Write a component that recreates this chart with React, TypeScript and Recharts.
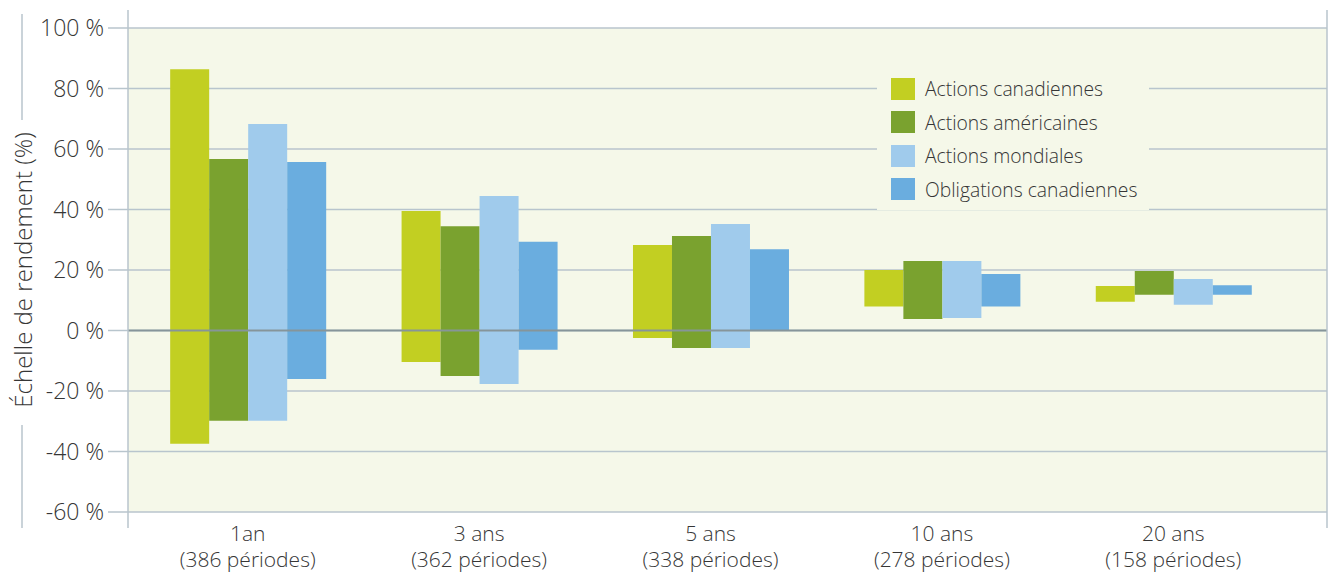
import { Bar, BarChart, CartesianGrid, Legend, ReferenceLine, XAxis, YAxis } from "recharts";

const categories = ["1an", "3 ans", "5 ans", "10 ans", "20 ans"];
const periods = ["(386 périodes)", "(362 périodes)", "(338 périodes)", "(278 périodes)", "(158 périodes)"];

// low / high return per horizon
const canadaLow = [-37.4, -10.4, -2.5, 7.9, 9.5];
const canadaHigh = [86.4, 39.5, 28.3, 20.0, 14.7];
const usLow = [-29.8, -15.0, -5.8, 3.8, 11.8];
const usHigh = [56.7, 34.5, 31.2, 23.0, 19.7];
const worldLow = [-29.8, -17.7, -5.8, 4.1, 8.5];
const worldHigh = [68.3, 44.5, 35.2, 23.0, 17.0];
const bondLow = [-16.0, -6.4, -0.2, 7.9, 11.8];
const bondHigh = [55.7, 29.3, 26.9, 18.7, 15.0];

const yTicks = [-60, -40, -20, 0, 20, 40, 60, 80, 100];

const series = [
  { key: "canada", name: "Actions canadiennes", color: "#c2cf22" },
  { key: "us", name: "Actions américaines", color: "#7aa22f" },
  { key: "world", name: "Actions mondiales", color: "#a0cbec" },
  { key: "bonds", name: "Obligations canadiennes", color: "#6aaddf" },
];

const data = categories.map((c, i) => ({
  category: c,
  periods: periods[i],
  canada: [canadaLow[i], canadaHigh[i]],
  us: [usLow[i], usHigh[i]],
  world: [worldLow[i], worldHigh[i]],
  bonds: [bondLow[i], bondHigh[i]],
}));

const FONT = "'Open Sans', 'Noto Sans', sans-serif";
const TEXT = "#363636";
const LINE = "#b8c5cd";
const BG = "#f5f8e9";

function XTick(props: any) {
  const { x, y, payload, index } = props;
  return (
    <g>
      <text x={x} y={y + 21} textAnchor="middle" fill={TEXT} fontFamily={FONT} fontWeight={300} fontSize={21}>
        {payload.value}
      </text>
      <text x={x} y={y + 47} textAnchor="middle" fill={TEXT} fontFamily={FONT} fontWeight={300} fontSize={21}>
        {periods[index]}
      </text>
    </g>
  );
}

function YLabel(props: any) {
  const vb = props.viewBox || { x: 0, y: 28, width: 128, height: 484 };
  const cy = vb.y + vb.height / 2;
  const right = vb.x + vb.width;
  return (
    <g>
      <line x1={22} x2={22} y1={vb.y - 14} y2={cy - 150} stroke={LINE} strokeWidth={1.5} />
      <line x1={22} x2={22} y1={cy + 155} y2={vb.y + vb.height + 16} stroke={LINE} strokeWidth={1.5} />
      <text
        x={22}
        y={cy}
        transform={`rotate(-90 22 ${cy})`}
        textAnchor="middle"
        dominantBaseline="central"
        fill={TEXT}
        fontFamily={FONT}
        fontWeight={300}
        fontSize={24}
      >
        Échelle de rendement (%)
      </text>
      <line x1={right} x2={right} y1={vb.y - 18} y2={vb.y + vb.height + 16} stroke={LINE} strokeWidth={1.5} />
    </g>
  );
}

function RightFrame(props: any) {
  const vb = props.viewBox || { x: 1327, y: 28, width: 4, height: 484 };
  return (
    <line x1={vb.x} x2={vb.x} y1={vb.y - 18} y2={vb.y + vb.height + 16} stroke={LINE} strokeWidth={1.5} />
  );
}

function LegendBox() {
  return (
    <div style={{ background: BG, width: 272, height: 140, paddingTop: 2, boxSizing: "border-box", fontFamily: FONT }}>
      {series.map((s) => (
        <div key={s.key} style={{ display: "flex", alignItems: "center", height: 33.5 }}>
          <span style={{ display: "inline-block", width: 24, height: 22, background: s.color, marginLeft: 14 }} />
          <span style={{ marginLeft: 10, fontSize: 19.3, fontWeight: 300, color: TEXT, whiteSpace: "nowrap" }}>{s.name}</span>
        </div>
      ))}
    </div>
  );
}

export default function App() {
  return (
    <div style={{ position: "absolute", left: 0, top: 0, background: "#ffffff" }}>
      <BarChart
        width={1331}
        height={573}
        data={data}
        margin={{ top: 28, right: 0, bottom: 0, left: 0 }}
        barCategoryGap="16.5%"
        barGap={0}
      >
        <CartesianGrid vertical={false} stroke={LINE} strokeWidth={1.5} fill={BG} />
        <XAxis
          dataKey="category"
          interval={0}
          axisLine={false}
          tickLine={false}
          height={61}
          padding={{ left: 4, right: 38 }}
          tick={<XTick />}
        />
        <YAxis
          domain={[-60, 100]}
          ticks={yTicks}
          width={128}
          tickSize={20}
          tickMargin={4}
          axisLine={false}
          tickLine={{ stroke: LINE, strokeWidth: 1.5 }}
          tickFormatter={(v: number) => `${v} %`}
          tick={{ fill: TEXT, fontFamily: FONT, fontWeight: 300, fontSize: 23 }}
          label={<YLabel />}
        />
        <YAxis
          yAxisId="frame"
          orientation="right"
          width={4}
          tick={false}
          tickLine={false}
          axisLine={false}
          label={<RightFrame />}
        />
        {series.map((s) => (
          <Bar key={s.key} dataKey={s.key} name={s.name} fill={s.color} isAnimationActive={false} />
        ))}
        <ReferenceLine y={0} stroke="#86959a" strokeWidth={2} />
        <Legend
          layout="vertical"
          align="center"
          verticalAlign="middle"
          content={<LegendBox />}
          wrapperStyle={{ position: "absolute", left: 877, top: 70, width: 272, height: 140 }}
        />
      </BarChart>
    </div>
  );
}
